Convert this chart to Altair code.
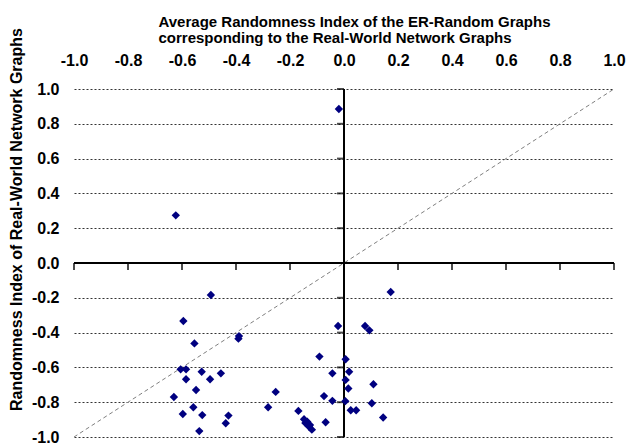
import altair as alt
import pandas as pd

# Average randomness index of ER-random graphs (x) vs real-world graph (y)
x_vals = [-0.623, -0.019, -0.493, -0.595, -0.554, -0.389, -0.391, -0.605, -0.585,
          -0.527, -0.456, -0.585, -0.496, -0.548, -0.630, -0.558, -0.597, -0.525,
          -0.428, -0.438, -0.536, -0.253, -0.281, -0.169, -0.148, -0.136, -0.126,
          -0.119, -0.143, -0.130, -0.091, -0.043, -0.074, -0.043, -0.068, -0.022,
          0.173, 0.078, 0.094, 0.006, 0.019, 0.006, 0.016, 0.109, 0.005, 0.103,
          0.025, 0.045, 0.145]
y_vals = [0.274, 0.885, -0.184, -0.333, -0.462, -0.420, -0.435, -0.611, -0.611,
          -0.625, -0.634, -0.668, -0.668, -0.730, -0.770, -0.829, -0.868, -0.874,
          -0.877, -0.921, -0.966, -0.741, -0.829, -0.850, -0.898, -0.912, -0.931,
          -0.958, -0.920, -0.940, -0.538, -0.634, -0.765, -0.792, -0.915, -0.362,
          -0.167, -0.362, -0.387, -0.553, -0.625, -0.672, -0.721, -0.697, -0.794,
          -0.806, -0.846, -0.846, -0.888]
tick_values = [-1.0, -0.8, -0.6, -0.4, -0.2, 0.0, 0.2, 0.4, 0.6, 0.8, 1.0]
x_title = ["Average Randomness Index of the ER-Random Graphs",
           "corresponding to the Real-World Network Graphs"]
y_title = "Randomness Index of Real-World Network Graphs"

FONT = "Liberation Sans"
label_expr = "(datum.value < -0.0001 ? '-' : '') + format(abs(datum.value), '.1f')"

df = pd.DataFrame({"x": x_vals, "y": y_vals})
ticks_df = pd.DataFrame({"t": tick_values, "zero": [0.0] * len(tick_values)})
diag_df = pd.DataFrame({"x": [tick_values[0], tick_values[-1]],
                        "y": [tick_values[0], tick_values[-1]]})
axis_df = pd.DataFrame({"lo": [tick_values[0]], "hi": [tick_values[-1]], "zero": [0.0]})

xs = alt.Scale(domain=[-1, 1], nice=False, zero=False)
ys = alt.Scale(domain=[-1, 1], nice=False, zero=False)

x_axis = alt.Axis(orient="top", values=tick_values, labelExpr=label_expr,
                  labelFont=FONT, labelFontWeight="bold", labelFontSize=16,
                  labelColor="black", labelPadding=21, labelFlush=False,
                  labelOverlap=False, labelBound=False,
                  domain=False, ticks=False, grid=False,
                  title=x_title, titleFont=FONT, titleFontWeight="bold",
                  titleFontSize=15, titleColor="black", titleAlign="left",
                  titleX=84, titleY=-63, titleBaseline="alphabetic",
                  titleLineHeight=16.5, titleAngle=0)
y_axis = alt.Axis(orient="left", values=tick_values, labelExpr=label_expr,
                  labelFont=FONT, labelFontWeight="bold", labelFontSize=16,
                  labelColor="black", labelPadding=15, labelFlush=False,
                  labelOverlap=False, labelBound=False,
                  domain=False, ticks=False, grid=True, gridColor="#333333",
                  gridDash=[2, 2], gridWidth=1,
                  title=y_title, titleFont=FONT, titleFontWeight="bold",
                  titleFontSize=16, titleColor="black", titleAngle=-90,
                  titleAlign="center", titleBaseline="middle",
                  titleX=-58, titleY=130)


def X(field):
    return alt.X(field, scale=xs, axis=x_axis, title=x_title)


def Y(field):
    return alt.Y(field, scale=ys, axis=y_axis, title=y_title)


points = alt.Chart(df).mark_point(shape="diamond", filled=True, size=70,
                                  color="#000080", opacity=1).encode(
    x=X("x:Q"), y=Y("y:Q"))

diag = alt.Chart(diag_df).mark_line(color="#7f7f7f", strokeDash=[4, 3],
                                    strokeWidth=1).encode(
    x=X("x:Q"), y=Y("y:Q"))

x_line = alt.Chart(axis_df).mark_rule(color="black", strokeWidth=2).encode(
    x=X("lo:Q"), x2="hi:Q", y=Y("zero:Q"))
y_line = alt.Chart(axis_df).mark_rule(color="black", strokeWidth=2).encode(
    y=Y("lo:Q"), y2="hi:Q", x=X("zero:Q"))

x_ticks = alt.Chart(ticks_df).mark_tick(color="black", orient="vertical",
                                        size=7, thickness=2, yOffset=3.5).encode(
    x=X("t:Q"), y=Y("zero:Q"))
y_ticks = alt.Chart(ticks_df).mark_tick(color="black", orient="horizontal",
                                        size=7, thickness=2, xOffset=-3.5).encode(
    y=Y("t:Q"), x=X("zero:Q"))

chart = alt.layer(diag, x_line, y_line, x_ticks, y_ticks, points).properties(
    width=540, height=348,
    autosize=alt.AutoSizeParams(type="none"),
    padding={"left": 74, "top": 89, "right": 13, "bottom": 7},
    background="white",
).configure_view(stroke=None)

chart.save("out.html", embed_options={"renderer": "svg", "actions": False})
